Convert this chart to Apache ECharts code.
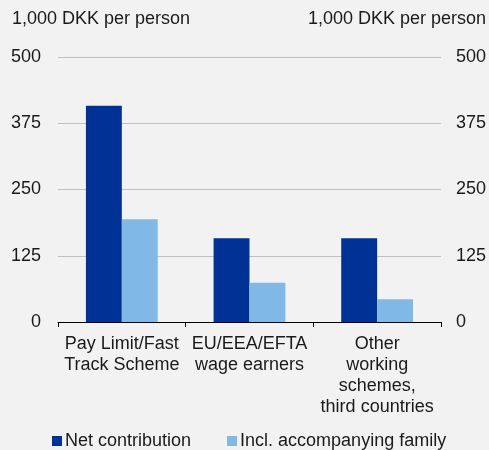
<!DOCTYPE html>
<html>
<head>
<meta charset="utf-8">
<script src="https://cdn.jsdelivr.net/npm/echarts@6/dist/echarts.min.js"></script>
<style>
html,body{margin:0;padding:0;background:#f2f2f2;}
#main{width:489px;height:450px;}
</style>
</head>
<body>
<div id="main"></div>
<script>
const categories = ['Pay Limit/Fast\nTrack Scheme', 'EU/EEA/EFTA\nwage earners', 'Other\nworking\nschemes,\nthird countries'];
const netContribution = [408, 158, 158];
const inclFamily = [194, 74, 43];
const seriesNames = ['Net contribution', 'Incl. accompanying family'];
const unitLabel = '1,000 DKK per person';
const yTicks = [0, 125, 250, 375, 500];

const font = 'Arial, "Liberation Sans", sans-serif';
const fs = 18;
const chart = echarts.init(document.getElementById('main'));
const yAxisCommon = {
  type: 'value', min: 0, max: 500, interval: 125,
  axisLine: {show: false}, axisTick: {show: false},
  splitLine: {lineStyle: {color: '#bfbfbf', width: 1}}
};
chart.setOption({
  backgroundColor: '#f2f2f2',
  animation: false,
  grid: {left: 58, right: 47, top: 57, bottom: 128},
  graphic: [
    {type: 'text', left: 12, top: 10, style: {text: unitLabel, font: fs + 'px ' + font, fill: '#1a1a1a'}},
    {type: 'text', right: 3, top: 10, style: {text: unitLabel, font: fs + 'px ' + font, fill: '#1a1a1a'}}
  ],
  legend: {
    bottom: 0, left: 52, padding: 0, itemWidth: 10, itemHeight: 10, itemGap: 36, icon: 'rect',
    textStyle: {fontSize: fs, fontFamily: font, color: '#1a1a1a', padding: [0, 0, 0, -2]},
    data: seriesNames
  },
  xAxis: {
    type: 'category', data: categories,
    axisLine: {lineStyle: {color: '#000', width: 1}},
    axisTick: {show: true, length: 5, lineStyle: {color: '#000'}},
    axisLabel: {fontSize: fs, fontFamily: font, color: '#1a1a1a', lineHeight: 21, margin: 12, interval: 0}
  },
  yAxis: [
    Object.assign({}, yAxisCommon, {position: 'left', axisLabel: {fontSize: fs, fontFamily: font, color: '#1a1a1a', margin: 17, formatter: v => yTicks.includes(v) ? String(v) : ''}}),
    Object.assign({}, yAxisCommon, {position: 'right', axisLabel: {fontSize: fs, fontFamily: font, color: '#1a1a1a', margin: 15}})
  ],
  series: [
    {name: seriesNames[0], type: 'bar', data: netContribution, itemStyle: {color: '#003296'}, barGap: '0%', barCategoryGap: '43.75%'},
    {name: seriesNames[1], type: 'bar', data: inclFamily, itemStyle: {color: '#80b9e6'}}
  ]
});
</script>
</body>
</html>
